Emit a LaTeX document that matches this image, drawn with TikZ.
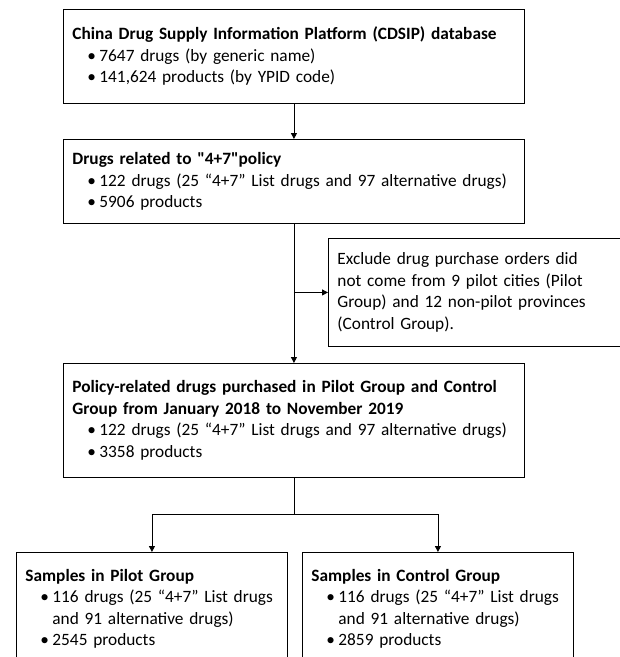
\documentclass[tikz,border=0pt]{standalone}
\usepackage{fontspec}
\setmainfont{Carlito}
\usetikzlibrary{arrows.meta}
\setlength{\parindent}{0pt}
\newcommand{\bul}[1]{\par\hspace*{15pt}\makebox[12pt][l]{\textbullet}#1}
\newcommand{\cont}[1]{\par\hspace*{27pt}#1}

\begin{document}
\begin{tikzpicture}[x=1pt,y=-1pt,
    box/.style={draw,line width=0.9pt,anchor=north west,inner xsep=9pt,inner ysep=0pt,
      align=left,font=\fontsize{17.3}{21.5}\selectfont},
    arr/.style={line width=0.9pt,-{Triangle[length=6pt,width=6pt]}}]
                \useasboundingbox (0,0) rectangle (620,657);
                \clip (0,0) rectangle (620,657);
                \node[box,text width=443pt,minimum width=461pt,minimum height=94pt] (db) at (63,9)
                  {\textbf{China Drug Supply Information Platform (CDSIP) database}
                   \bul{7647 drugs (by generic name)}
                   \bul{141,624 products (by YPID code)}};
                \node[box,text width=443pt,minimum width=461pt,minimum height=84pt] (related) at (63,139)
                  {\textbf{Drugs related to \textquotedbl4+7\textquotedbl policy}
                   \bul{122 drugs (25 “4+7” List drugs and 97 alternative drugs)}
                   \bul{5906 products}};
                \node[box,text width=302pt,minimum width=320pt,minimum height=108pt] (exclude) at (328,238)
                  {Exclude drug purchase orders did\\
                   not come from 9 pilot cities (Pilot\\
                   Group) and 12 non-pilot provinces\\
                   (Control Group).};
                \node[box,text width=443pt,minimum width=461pt,minimum height=114pt] (policy) at (63,363)
                  {\textbf{Policy-related drugs purchased in Pilot Group and Control}\\
                   \textbf{Group from January 2018 to November 2019}
                   \bul{122 drugs (25 “4+7” List drugs and 97 alternative drugs)}
                   \bul{3358 products}};
                \node[box,text width=253pt,minimum width=271pt,minimum height=113pt] (pilot) at (16,552)
                  {\textbf{Samples in Pilot Group}
                   \bul{116 drugs (25 “4+7” List drugs}
                   \cont{and 91 alternative drugs)}
                   \bul{2545 products}};
                \node[box,text width=253pt,minimum width=271pt,minimum height=113pt] (control) at (302,552)
                  {\textbf{Samples in Control Group}
                   \bul{116 drugs (25 “4+7” List drugs}
                   \cont{and 91 alternative drugs)}
                   \bul{2859 products}};

                \draw[arr] (db) -- (related);
                \draw[arr] (related) -- (policy);
                \draw[arr] (related.south |- exclude.west) -- (exclude.west);
                \draw[line width=0.9pt] (policy.south) -- ++(0,37) coordinate (split);
                \draw[arr] (split) -| (pilot.north);
                \draw[arr] (split) -| (control.north);
              \end{tikzpicture}
\end{document}
